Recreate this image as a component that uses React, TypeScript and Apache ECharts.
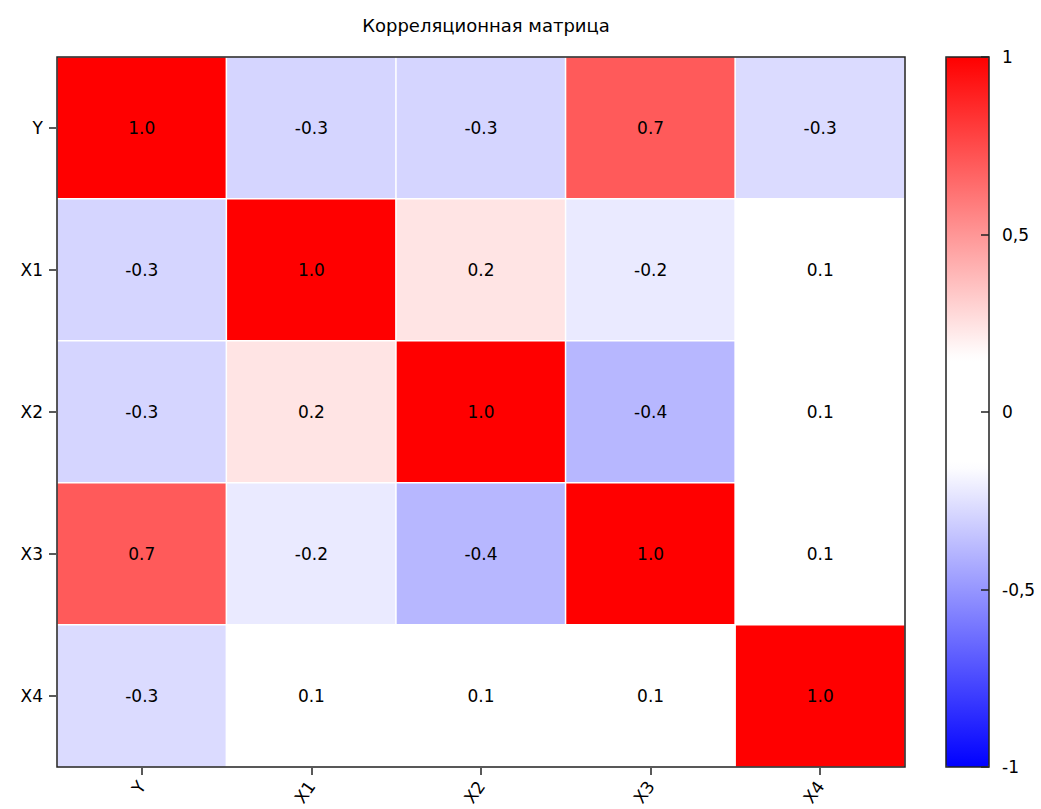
import React, { useEffect, useRef } from "react";
import * as echarts from "echarts";

const categories = ["Y", "X1", "X2", "X3", "X4"];
const rowY = [1.0, -0.29, -0.29, 0.7, -0.27];
const rowX1 = [-0.29, 1.0, 0.24, -0.22, 0.08];
const rowX2 = [-0.29, 0.24, 1.0, -0.39, 0.07];
const rowX3 = [0.7, -0.22, -0.39, 1.0, 0.09];
const rowX4 = [-0.27, 0.08, 0.07, 0.09, 1.0];
const rows = [rowY, rowX1, rowX2, rowX3, rowX4];
const colorbarMin = -1;
const colorbarMax = 1;
const colorbarInterval = 0.5;

const FONT = "DejaVu Sans";

function colorAt(v: number): string {
  const a = Math.abs(v);
  if (a <= 0.15) return "rgb(255,255,255)";
  const t = (a - 0.15) / 0.85;
  const c = Math.round(255 * (1 - t));
  return v > 0 ? `rgb(255,${c},${c})` : `rgb(${c},${c},255)`;
}

const stops: string[] = [];
for (let i = 0; i <= 40; i++) stops.push(colorAt(-1 + i * 0.05));

export default function App() {
  const ref = useRef<HTMLDivElement>(null);
  useEffect(() => {
    document.body.style.margin = "0";
    const chart = echarts.init(ref.current!, undefined, { renderer: "svg" });
    const data: [number, number, number][] = [];
    rows.forEach((row, yi) => row.forEach((v, xi) => data.push([xi, yi, v])));
    chart.setOption({
      animation: false,
      backgroundColor: "#fff",
      textStyle: { fontFamily: FONT },
      title: {
        text: "Корреляционная матрица",
        left: 481,
        textAlign: "center",
        top: 11,
        textStyle: { fontFamily: FONT, fontSize: 18, fontWeight: "normal", color: "#000" },
      },
      grid: [
        {
          left: 57, top: 57, width: 848, height: 710,
          show: true, borderColor: "#222", borderWidth: 1.5, z: 10,
          backgroundColor: "transparent",
        },
        {
          left: 946, top: 57, width: 43, height: 710,
          show: true, borderColor: "#222", borderWidth: 1.5, z: 10,
          backgroundColor: "transparent",
        },
      ],
      xAxis: [
        {
          type: "category",
          data: categories,
          gridIndex: 0,
          axisLine: { show: false },
          axisTick: { show: true, alignWithLabel: true, length: 8, lineStyle: { color: "#222", width: 1.5 } },
          axisLabel: { rotate: 55, fontSize: 17, color: "#000", margin: 16, fontFamily: FONT },
          splitLine: { show: false },
        },
        { type: "value", gridIndex: 1, min: 0, max: 1, show: false },
      ],
      yAxis: [
        {
          type: "category",
          data: categories,
          inverse: true,
          gridIndex: 0,
          axisLine: { show: false },
          axisTick: { show: true, alignWithLabel: true, length: 8, lineStyle: { color: "#222", width: 1.5 } },
          axisLabel: { fontSize: 17, color: "#000", margin: 14, fontFamily: FONT },
          splitLine: { show: false },
        },
        {
          type: "value",
          gridIndex: 1,
          position: "right",
          z: 20,
          min: colorbarMin,
          max: colorbarMax,
          interval: colorbarInterval,
          axisLine: { show: false, onZero: false },
          axisTick: { show: true, inside: true, length: 8, lineStyle: { color: "#222", width: 1.5 } },
          axisLabel: {
            fontSize: 17, color: "#000", margin: 13, fontFamily: FONT,
            formatter: (v: number) => String(v).replace(".", ","),
          },
          splitLine: { show: false },
        },
      ],
      visualMap: {
        type: "continuous",
        min: colorbarMin,
        max: colorbarMax,
        seriesIndex: 0,
        calculable: false,
        hoverLink: false,
        left: 946,
        top: 57,
        itemWidth: 43,
        itemHeight: 710,
        padding: 0,
        z: 2,
        inRange: { color: stops },
      },
      series: [
        {
          type: "heatmap",
          xAxisIndex: 0,
          yAxisIndex: 0,
          data,
          itemStyle: { borderColor: "#fff", borderWidth: 1.5 },
          label: {
            show: true,
            fontSize: 17,
            color: "#000",
            fontFamily: FONT,
            formatter: (p: any) => p.value[2].toFixed(1),
          },
          emphasis: { disabled: true },
        },
      ],
    });
    return () => chart.dispose();
  }, []);
  return <div ref={ref} style={{ width: 1041, height: 809 }} />;
}
